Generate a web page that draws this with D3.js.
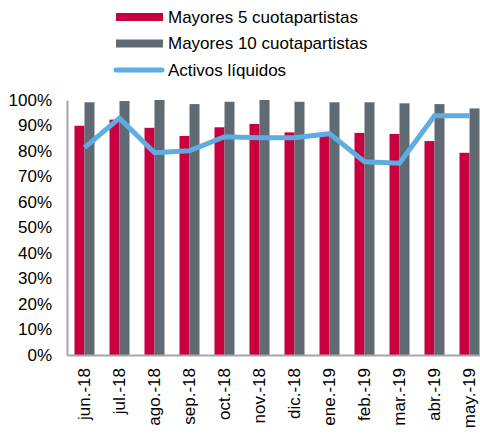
<!DOCTYPE html>
<html>
<head>
<meta charset="utf-8">
<script src="https://cdn.jsdelivr.net/npm/d3@7"></script>
<style>
  body { margin: 0; background: #fff; }
  svg { display: block; font-family: "Liberation Sans", Arial, sans-serif; }
</style>
</head>
<body>
<svg id="chart" width="480" height="434"></svg>
<script>
// data
const months = ["jun.-18", "jul.-18", "ago.-18", "sep.-18", "oct.-18", "nov.-18",
                "dic.-18", "ene.-19", "feb.-19", "mar.-19", "abr.-19", "may.-19"];
const top5 = [89.9, 92.3, 89.1, 85.9, 89.3, 90.6, 87.3, 86.0, 87.1, 86.7, 83.9, 79.3];
const top10 = [99.1, 99.6, 100, 98.4, 99.3, 100, 99.3, 99.1, 99.1, 98.7, 98.4, 96.7];
const liquidos = [81.3, 92.9, 79.3, 80.1, 85.6, 85.2, 85.2, 86.8, 75.8, 75.2, 93.8, 93.8];
const yTicks = [0, 10, 20, 30, 40, 50, 60, 70, 80, 90, 100];
const legendItems = [
  { label: "Mayores 5 cuotapartistas", type: "bar", color: "#c8003f" },
  { label: "Mayores 10 cuotapartistas", type: "bar", color: "#5f6a72" },
  { label: "Activos líquidos", type: "line", color: "#5dade2" }
];

const margin = { top: 100, left: 67 };
const plotW = 420, plotH = 255;
const svg = d3.select("#chart");

const x = d3.scaleBand().domain(months).range([margin.left, margin.left + plotW]);
const y = d3.scaleLinear().domain([0, 100]).range([margin.top + plotH, margin.top]);
const barW = 10;

// bars
const g = svg.append("g");
g.selectAll("rect.t5")
  .data(months)
  .enter()
  .append("rect")
  .attr("x", d => x(d) + x.bandwidth() / 2 - barW)
  .attr("y", (d, i) => y(top5[i]))
  .attr("width", barW)
  .attr("height", (d, i) => y(0) - y(top5[i]))
  .attr("fill", legendItems[0].color);

g.selectAll("rect.t10")
  .data(months)
  .enter()
  .append("rect")
  .attr("x", d => x(d) + x.bandwidth() / 2)
  .attr("y", (d, i) => y(top10[i]))
  .attr("width", barW)
  .attr("height", (d, i) => y(0) - y(top10[i]))
  .attr("fill", legendItems[1].color);

// line
const line = d3.line()
  .x((d, i) => x(months[i]) + x.bandwidth() / 2)
  .y(d => y(d));

svg.append("path")
  .datum(liquidos)
  .attr("d", line)
  .attr("fill", "none")
  .attr("stroke", legendItems[2].color)
  .attr("stroke-width", 5)
  .attr("stroke-linejoin", "miter");

// axes
const yAxis = svg.append("g")
  .attr("transform", `translate(${margin.left},0)`)
  .call(d3.axisLeft(y).tickValues(yTicks).tickFormat(d => d + "%").tickSize(0).tickPadding(15));
yAxis.select(".domain").attr("stroke", "#a6a6a6").attr("stroke-width", 2);
yAxis.selectAll("text").style("font-size", "17px").attr("fill", "#000").attr("font-family", null);

const xAxis = svg.append("g")
  .attr("transform", `translate(0,${y(0)})`)
  .call(d3.axisBottom(x).tickSize(0).tickSizeOuter(0));
xAxis.select(".domain").attr("stroke", "#a6a6a6").attr("stroke-width", 2);
xAxis.selectAll("text")
  .style("font-size", "17px")
  .attr("fill", "#000")
  .attr("font-family", null)
  .attr("text-anchor", "end")
  .attr("transform", "translate(0,13) rotate(-90)")
  .attr("x", 0)
  .attr("y", 0)
  .attr("dy", "0.35em");

// legend
const legend = svg.append("g");
legendItems.forEach((item, i) => {
  const cy = 17 + i * 26.5;
  if (item.type === "bar") {
    legend.append("rect")
      .attr("x", 116).attr("y", cy - 4)
      .attr("width", 47).attr("height", 8)
      .attr("fill", item.color);
  } else {
    legend.append("line")
      .attr("x1", 116).attr("x2", 162)
      .attr("y1", cy).attr("y2", cy)
      .attr("stroke", item.color)
      .attr("stroke-width", 5)
      .attr("stroke-linecap", "round");
  }
  legend.append("text")
    .attr("x", 168).attr("y", cy)
    .attr("dy", "0.35em")
    .style("font-size", "17px")
    .text(item.label);
});
</script>
</body>
</html>
